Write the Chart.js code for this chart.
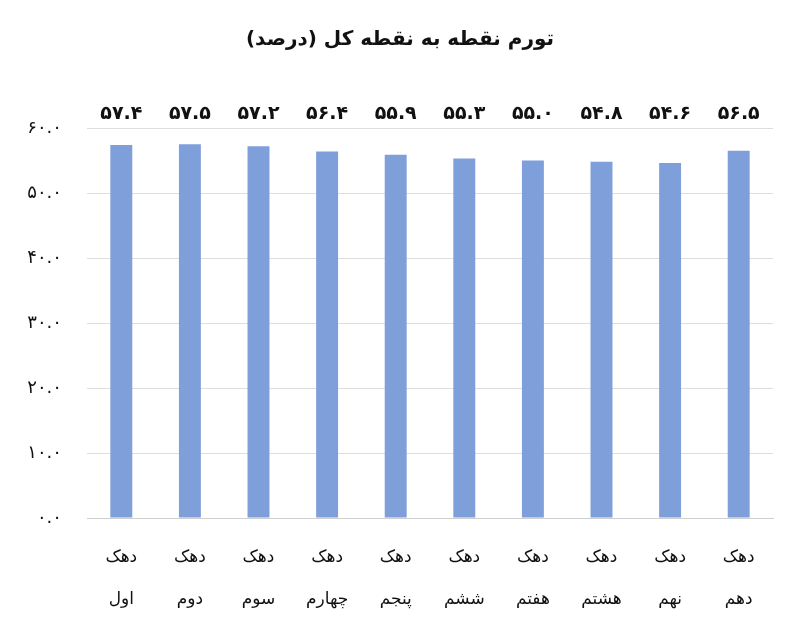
<!DOCTYPE html>
<html>
<head>
<meta charset="utf-8">
<script src="https://cdn.jsdelivr.net/npm/chart.js@4.4.0/dist/chart.umd.min.js"></script>
<style>
  html, body { margin: 0; padding: 0; background: #fff; }
  #wrap { width: 800px; height: 622px; }
</style>
</head>
<body>
<div id="wrap"><canvas id="chart" width="800" height="622"></canvas></div>
<script>
// chart data
const chartTitle = 'تورم نقطه به نقطه کل (درصد)';
const deciles = ['اول', 'دوم', 'سوم', 'چهارم', 'پنجم', 'ششم', 'هفتم', 'هشتم', 'نهم', 'دهم'];
const inflation = [57.4, 57.5, 57.2, 56.4, 55.9, 55.3, 55.0, 54.8, 54.6, 56.5];
const yTicks = [0, 10, 20, 30, 40, 50, 60];

const faDigits = '۰۱۲۳۴۵۶۷۸۹';
function toFa(num) {
  return num.toFixed(1).replace(/[0-9]/g, d => faDigits[+d]);
}

const FONT = '"DejaVu Sans", "Noto Sans", sans-serif';

// title + value labels drawn on top
const extraText = {
  id: 'extraText',
  afterDatasetsDraw(chart) {
    const ctx = chart.ctx;
    const xs = chart.scales.x;
    ctx.save();
    ctx.fillStyle = '#111';
    ctx.textAlign = 'center';
    ctx.textBaseline = 'middle';
    ctx.direction = 'rtl';
    ctx.font = 'bold 20px ' + FONT;
    ctx.fillText(chartTitle, 400, 40);

    ctx.direction = 'ltr';
    ctx.font = 'bold 19px ' + FONT;
    inflation.forEach((v, i) => {
      ctx.fillText(toFa(v), xs.getPixelForValue(i), 114);
    });
    ctx.restore();
  }
};

new Chart(document.getElementById('chart'), {
  type: 'bar',
  data: {
    labels: deciles.map(d => ['دهک', d]),
    datasets: [{
      data: inflation,
      backgroundColor: '#7f9fdb',
      barPercentage: 0.32,
      categoryPercentage: 1.0
    }]
  },
  plugins: [extraText],
  options: {
    responsive: false,
    animation: false,
    layout: { padding: { top: 128, right: 27, left: 0, bottom: 0 } },
    plugins: {
      legend: { display: false },
      tooltip: { enabled: false }
    },
    scales: {
      x: {
        grid: { display: false },
        border: { color: '#cfcfcf' },
        ticks: {
          color: '#111',
          font: { family: FONT, size: 17, lineHeight: 2.5 },
          padding: 10,
          maxRotation: 0
        },
        afterFit(s) { s.height = 104; }
      },
      y: {
        min: 0,
        max: 60,
        afterBuildTicks(s) { s.ticks = yTicks.map(v => ({ value: v })); },
        grid: { color: '#dedede', drawTicks: false },
        border: { display: false },
        ticks: {
          color: '#111',
          font: { family: FONT, size: 18 },
          padding: 25,
          callback: v => toFa(v)
        },
        afterFit(s) { s.width = 87; }
      }
    }
  }
});
</script>
</body>
</html>
